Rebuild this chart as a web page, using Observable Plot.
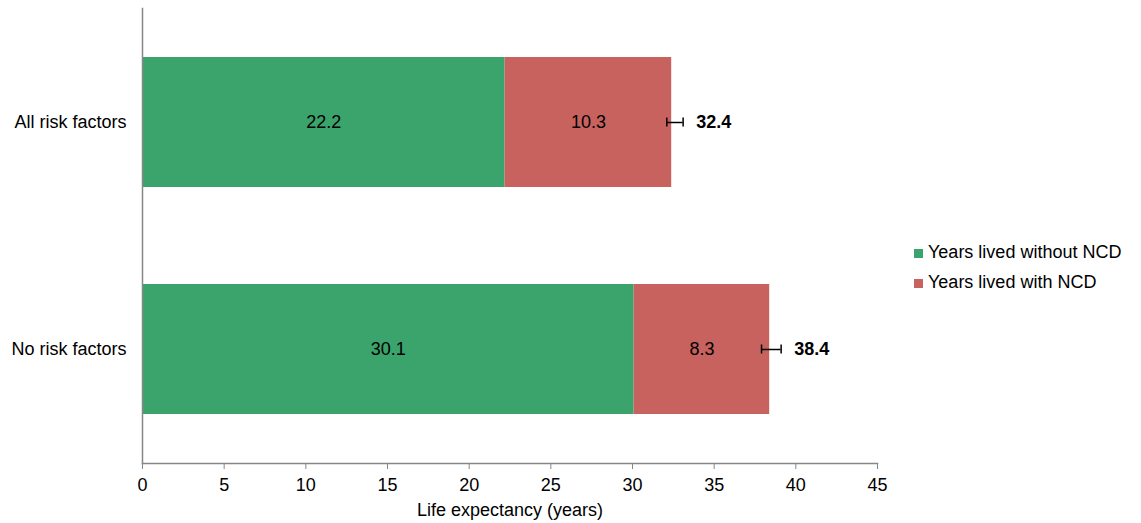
<!DOCTYPE html>
<html><head><meta charset="utf-8">
<script src="https://cdn.jsdelivr.net/npm/d3@7"></script>
<script src="https://cdn.jsdelivr.net/npm/@observablehq/plot@0.6"></script>
<style>
body{margin:0;background:#fff;font-family:"Liberation Sans",Arial,sans-serif;}
#wrap{position:relative;width:1141px;height:523px;}
#legend{position:absolute;left:914px;top:237px;font-size:18px;color:#000;}
.item{display:flex;align-items:center;height:30px;white-space:nowrap;}
.sw{width:9px;height:9px;margin-right:5px;margin-top:3px;}
</style></head><body><div id="wrap"><div id="legend"></div></div>
<script>
const categories = ["All risk factors", "No risk factors"];
const withoutNCD = [22.2, 30.1];
const withNCD = [10.3, 8.3];
const totals = [32.4, 38.4];
const ciLow = [32.1, 37.9];
const ciHigh = [33.1, 39.1];
const seriesNames = ["Years lived without NCD", "Years lived with NCD"];
const seriesColors = ["#3BA36C", "#C8625E"];
const xTicks = [0, 5, 10, 15, 20, 25, 30, 35, 40, 45];
const xLabel = "Life expectancy (years)";

const segments = [];
categories.forEach((c, i) => {
  segments.push({cat: c, series: seriesNames[0], x1: 0, x2: withoutNCD[i], label: withoutNCD[i].toFixed(1)});
  segments.push({cat: c, series: seriesNames[1], x1: withoutNCD[i], x2: totals[i], label: withNCD[i].toFixed(1)});
});
const totalRows = categories.map((c, i) => ({cat: c, total: totals[i], lo: ciLow[i], hi: ciHigh[i]}));

const plot = Plot.plot({
  width: 1141,
  height: 523,
  marginLeft: 142,
  marginRight: 264,
  marginTop: 8,
  marginBottom: 60,
  style: {fontFamily: '"Liberation Sans", Arial, sans-serif', fontSize: "18px", color: "#000", background: "#fff"},
  x: {domain: [0, 45]},
  y: {domain: categories, paddingInner: 0.427, paddingOuter: 0.215},
  color: {domain: seriesNames, range: seriesColors},
  marks: [
    Plot.barX(segments, {y: "cat", x1: "x1", x2: "x2", fill: "series"}),
    Plot.text(segments, {y: "cat", x: d => (d.x1 + d.x2) / 2, text: "label", fill: "#000", fontSize: 18}),
    Plot.ruleY(totalRows, {y: "cat", x1: "lo", x2: "hi", stroke: "#000", strokeWidth: 1.5}),
    Plot.tickX(totalRows, {y: "cat", x: "lo", stroke: "#000", strokeWidth: 1.5, insetTop: 60.5, insetBottom: 60.5}),
    Plot.tickX(totalRows, {y: "cat", x: "hi", stroke: "#000", strokeWidth: 1.5, insetTop: 60.5, insetBottom: 60.5}),
    Plot.text(totalRows, {y: "cat", x: "hi", text: d => d.total.toFixed(1), dx: 13, textAnchor: "start", fontWeight: "bold", fontSize: 18, fill: "#000"}),
    Plot.axisX({ticks: xTicks, tickSize: 6, tickPadding: 9, stroke: "#878787", fill: "#000", label: null, tickFormat: d => String(d)}),
    Plot.axisY({tickSize: 0, tickPadding: 16, label: null, fill: "#000"}),
    Plot.frame({anchor: "bottom", stroke: "#878787", strokeWidth: 1.5}),
    Plot.frame({anchor: "left", stroke: "#878787", strokeWidth: 1.5}),
    Plot.text([xLabel], {frameAnchor: "bottom", text: d => d, dy: 47, lineAnchor: "middle", fontSize: 18, fill: "#000"})
  ]
});
document.getElementById("wrap").prepend(plot);

const legend = document.getElementById("legend");
seriesNames.forEach((n, i) => {
  const item = document.createElement("div");
  item.className = "item";
  const sw = document.createElement("span");
  sw.className = "sw";
  sw.style.background = seriesColors[i];
  const t = document.createElement("span");
  t.textContent = n;
  item.append(sw, t);
  legend.append(item);
});
</script></body></html>
